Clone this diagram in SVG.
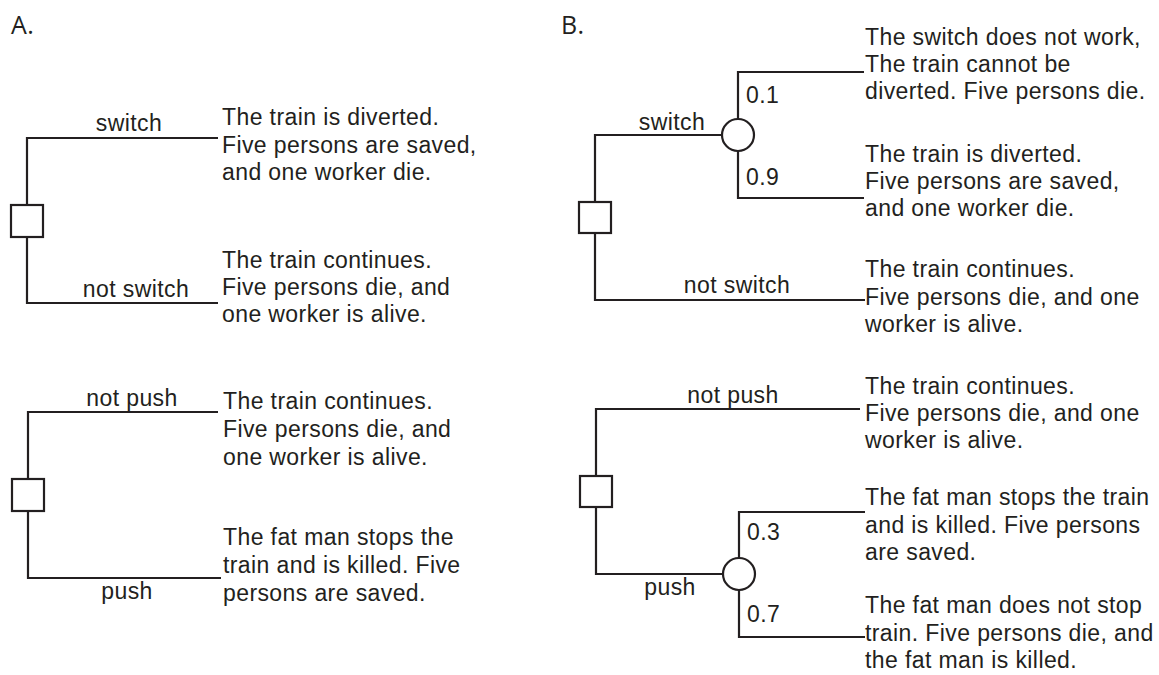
<svg xmlns="http://www.w3.org/2000/svg" width="1159" height="675" viewBox="0 0 1159 675">
<style>
.ln{fill:none;stroke:#231f20;stroke-width:2.2}
.nd{fill:#fff;stroke:#231f20;stroke-width:2.2}
text{font-family:"Liberation Sans",Arial,sans-serif;font-size:23px;fill:#231f20;letter-spacing:0.4px}
.hd{font-family:"Open Sans","Liberation Sans",sans-serif;font-size:25px}
.lb{text-anchor:middle}
</style>
<rect width="1159" height="675" fill="#fff"/>
<text class="hd" x="11" y="34">A.</text>
<text class="hd" x="561" y="34">B.</text>

<g id="connectors">
  <!-- A top -->
  <path class="ln" d="M27 205 V138 H218"/>
  <path class="ln" d="M27 237 V303 H218"/>
  <!-- A bottom -->
  <path class="ln" d="M28 479 V412 H218"/>
  <path class="ln" d="M28 511 V578 H221"/>
  <!-- B top -->
  <path class="ln" d="M595 202 V135 H722"/>
  <path class="ln" d="M738 119 V72 H864"/>
  <path class="ln" d="M738 151 V198 H864"/>
  <path class="ln" d="M595 233 V300 H865"/>
  <!-- B bottom -->
  <path class="ln" d="M596 476 V409 H860"/>
  <path class="ln" d="M596 507 V574 H723"/>
  <path class="ln" d="M739 558 V512 H865"/>
  <path class="ln" d="M739 590 V637 H865"/>
</g>

<g id="labels">
  <text class="lb" x="129" y="131">switch</text>
  <text class="lb" x="136" y="297">not switch</text>
  <text class="lb" x="132" y="406">not push</text>
  <text class="lb" x="127" y="599">push</text>
  <text class="lb" x="672" y="130">switch</text>
  <text class="lb" x="737" y="293">not switch</text>
  <text class="lb" x="733" y="403">not push</text>
  <text class="lb" x="670" y="595">push</text>
  <text x="746" y="103">0.1</text>
  <text x="746" y="185">0.9</text>
  <text x="747" y="540">0.3</text>
  <text x="747" y="622">0.7</text>
</g>

<g id="A-decision-1"><rect class="nd" x="11" y="205" width="32" height="32"/></g>
<g id="A-decision-2"><rect class="nd" x="12" y="479" width="32" height="32"/></g>
<g id="B-decision-1"><rect class="nd" x="579" y="202" width="32" height="31"/></g>
<g id="B-chance-1"><circle class="nd" cx="738" cy="135" r="16"/></g>
<g id="B-decision-2"><rect class="nd" x="580" y="476" width="32" height="31"/></g>
<g id="B-chance-2"><circle class="nd" cx="739" cy="574" r="16"/></g>

<g id="A-outcome-1"><text><tspan x="222" y="125">The train is diverted.</tspan><tspan x="222" y="153">Five persons are saved,</tspan><tspan x="222" y="180">and one worker die.</tspan></text></g>
<g id="A-outcome-2"><text><tspan x="222" y="268">The train continues.</tspan><tspan x="222" y="295">Five persons die, and</tspan><tspan x="222" y="322">one worker is alive.</tspan></text></g>
<g id="A-outcome-3"><text><tspan x="223" y="409">The train continues.</tspan><tspan x="223" y="437">Five persons die, and</tspan><tspan x="223" y="465">one worker is alive.</tspan></text></g>
<g id="A-outcome-4"><text><tspan x="223" y="545">The fat man stops the</tspan><tspan x="223" y="573">train and is killed. Five</tspan><tspan x="223" y="601">persons are saved.</tspan></text></g>

<g id="B-outcome-1"><text><tspan x="865" y="45">The switch does not work,</tspan><tspan x="865" y="72">The train cannot be</tspan><tspan x="865" y="99">diverted. Five persons die.</tspan></text></g>
<g id="B-outcome-2"><text><tspan x="865" y="162">The train is diverted.</tspan><tspan x="865" y="189">Five persons are saved,</tspan><tspan x="865" y="216">and one worker die.</tspan></text></g>
<g id="B-outcome-3"><text><tspan x="865" y="277">The train continues.</tspan><tspan x="865" y="305">Five persons die, and one</tspan><tspan x="865" y="332">worker is alive.</tspan></text></g>
<g id="B-outcome-4"><text><tspan x="865" y="394">The train continues.</tspan><tspan x="865" y="421">Five persons die, and one</tspan><tspan x="865" y="448">worker is alive.</tspan></text></g>
<g id="B-outcome-5"><text><tspan x="865" y="505">The fat man stops the train</tspan><tspan x="865" y="533">and is killed. Five persons</tspan><tspan x="865" y="560">are saved.</tspan></text></g>
<g id="B-outcome-6"><text><tspan x="865" y="613">The fat man does not stop</tspan><tspan x="865" y="641">train. Five persons die, and</tspan><tspan x="865" y="668">the fat man is killed.</tspan></text></g>
</svg>
